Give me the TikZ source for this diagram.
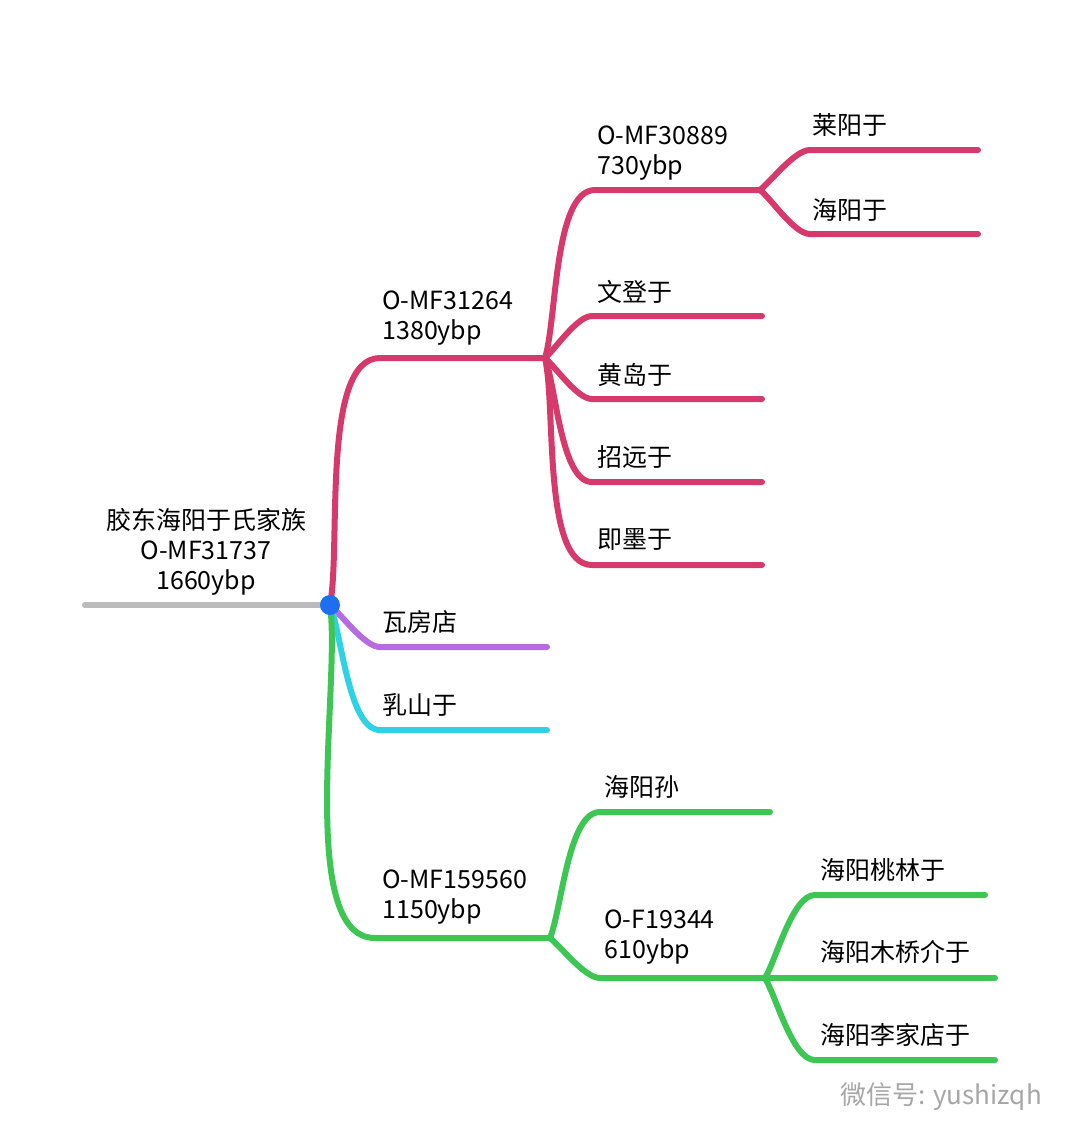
\documentclass[tikz,border=0pt]{standalone}
\usepackage{fontspec}
\setmainfont{Noto Sans CJK SC}
\begin{document}
\begin{tikzpicture}[x=0.5pt, y=-0.5pt, line cap=round,
	br/.style={line width=3pt},
	lbl/.style={anchor=west, inner sep=0pt, font=\fontsize{12.5}{15}\selectfont, align=left},
	cv/.style={out=#1, in=180, looseness=0.6}]
	\definecolor{rootgray}{HTML}{BBBBBB}
	\definecolor{redb}{HTML}{D63A6C}
	\definecolor{purpb}{HTML}{B66BE3}
	\definecolor{cyanb}{HTML}{2FD2E2}
	\definecolor{greenb}{HTML}{3EC655}
	\definecolor{dotblue}{HTML}{1E6FF0}
	\useasboundingbox (0,0) rectangle (1080,1146);

	% root
	\coordinate (s) at (85,605);
	\coordinate (root) at (330,605);
	\node[lbl, anchor=center, align=center] (rootlbl) at (206,552) {胶东海阳于氏家族\\O-MF31737\\1660ybp};
	\draw[br, rootgray] (s) -- (root);

	% red branch
	\coordinate (r1) at (380,358); \coordinate (r1e) at (545,358);
	\draw[br, redb] (root) to[cv=79] (r1) -- (r1e);
	\node[lbl] (r1lbl) at (382,318) {O-MF31264\\1380ybp};
	\coordinate (r2) at (595,190); \coordinate (r2e) at (760,190);
	\draw[br, redb] (r1e) to[cv=73] (r2) -- (r2e);
	\node[lbl] (r2lbl) at (597,153) {O-MF30889\\730ybp};
	\coordinate (a1) at (810,150); \coordinate (a1e) at (978,150);
	\coordinate (a2) at (810,234); \coordinate (a2e) at (978,234);
	\draw[br, redb] (r2e) to[cv=39] (a1) -- (a1e);
	\draw[br, redb] (r2e) to[cv=-39] (a2) -- (a2e);
	\node[lbl] (laiyang) at (812,125) {莱阳于};
	\node[lbl] (haiyang) at (812,210) {海阳于};
	\coordinate (b1) at (592,316); \coordinate (b1e) at (762,316);
	\coordinate (b2) at (592,399); \coordinate (b2e) at (762,399);
	\coordinate (b3) at (592,482); \coordinate (b3e) at (762,482);
	\coordinate (b4) at (592,565); \coordinate (b4e) at (762,565);
	\draw[br, redb] (r1e) to[cv=42] (b1) -- (b1e);
	\draw[br, redb] (r1e) to[cv=-41] (b2) -- (b2e);
	\draw[br, redb] (r1e) to[cv=-69] (b3) -- (b3e);
	\draw[br, redb] (r1e) to[cv=-77] (b4) -- (b4e);
	\node[lbl] (wendeng) at (597,292) {文登于};
	\node[lbl] (huangdao) at (597,375) {黄岛于};
	\node[lbl] (zhaoyuan) at (597,457) {招远于};
	\node[lbl] (jimo) at (597,540) {即墨于};

	% purple and cyan
	\coordinate (p1) at (380,647); \coordinate (p1e) at (547,647);
	\coordinate (c1) at (380,730); \coordinate (c1e) at (547,730);
	\draw[br, purpb] (root) to[cv=-40] (p1) -- (p1e);
	\draw[br, cyanb] (root) to[cv=-68] (c1) -- (c1e);
	\node[lbl] (wafang) at (382,622) {瓦房店};
	\node[lbl] (rushan) at (382,705) {乳山于};

	% green branch
	\coordinate (g1) at (375,938); \coordinate (g1e) at (550,938);
	\draw[br, greenb] (root) to[cv=-82] (g1) -- (g1e);
	\node[lbl] (g1lbl) at (382,897) {O-MF159560\\1150ybp};
	\coordinate (g2) at (600,812); \coordinate (g2e) at (770,812);
	\coordinate (g3) at (600,978); \coordinate (g3e) at (765,978);
	\draw[br, greenb] (g1e) to[cv=68] (g2) -- (g2e);
	\draw[br, greenb] (g1e) to[cv=-39] (g3) -- (g3e);
	\node[lbl] (sun) at (604,787) {海阳孙};
	\node[lbl] (g3lbl) at (604,937) {O-F19344\\610ybp};
	\coordinate (h1) at (815,895); \coordinate (h1e) at (985,895);
	\coordinate (h2) at (815,978); \coordinate (h2e) at (995,978);
	\coordinate (h3) at (815,1060); \coordinate (h3e) at (995,1060);
	\draw[br, greenb] (g3e) to[cv=59] (h1) -- (h1e);
	\draw[br, greenb] (g3e) -- (h2e);
	\draw[br, greenb] (g3e) to[cv=-59] (h3) -- (h3e);
	\node[lbl] (taolin) at (820,870) {海阳桃林于};
	\node[lbl] (muqiao) at (820,952) {海阳木桥介于};
	\node[lbl] (lijia) at (820,1035) {海阳李家店于};

	\fill[dotblue] (root) circle (10);
	\node[lbl, text=gray!70, font=\fontsize{13}{15}\selectfont] (mark) at (840,1097) {微信号: yushizqh};
\end{tikzpicture}
\end{document}
